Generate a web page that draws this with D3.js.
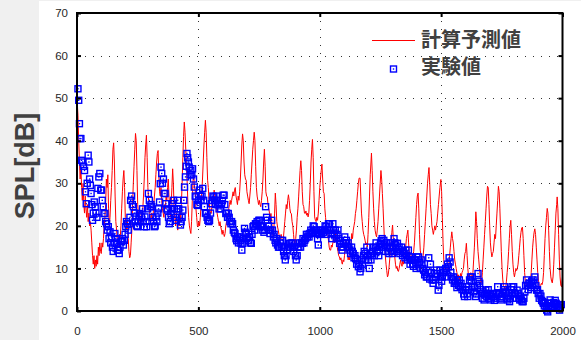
<!DOCTYPE html>
<html>
<head>
<meta charset="utf-8">
<script src="https://cdn.jsdelivr.net/npm/d3@7"></script>
<style>
  body { margin: 0; background: #f0f0f0; }
  svg { display: block; }
</style>
</head>
<body>
<svg id="chart" width="581" height="340"></svg>
<script>
// axis ticks and legend labels
const xTicks = [0, 500, 1000, 1500, 2000];
const yTicks = [0, 10, 20, 30, 40, 50, 60, 70];
const gridX = [500, 1000, 1500];
const gridY = [10, 20, 30, 40, 50, 60];
const legendLabels = ['計算予測値', '実験値'];
const yLabel = 'SPL[dB]';

// 計算予測値 : [Hz, dB]
const predicted = [
  [1,49],[4,46],[7,40],[10,35],[13,31],[16,34],[19,29],[22,26],[25,30],[28,25],[31,23],[34,27],[37,24],[40,22],[43,25],[46,21],[49,23],[52,20],[55,21],[58,19],
  [61,16],[64,13],[67,11],[70,13],[73,10],[76,12],[79,10.5],[82,13],[85,11],[88,15],[91,13],[94,16],[97,14],[100,13.5],[103,16],[106,15],[109,17],[112,20],[115,22],[118,25],
  [121,31],[124,29],[127,32],[130,24],[133,20],[136,22],[139,26],[142,29],[145,33],[148,38],[151,39.5],[154,35],[157,27],[160,21],[163,19],[166,17],[169,15],[172,16],[175,18],[178,17],
  [181,20],[184,24],[187,28],[190,31],[193,33],[196,29],[199,22],[202,20],[205,19],[208,21],[211,17],[214,14],[217,12.5],[220,13],[223,16],[226,19],[229,25],[232,30],[235,34],[238,38],
  [241,41.7],[244,40],[247,33],[250,25],[253,23],[256,21],[259,22],[262,20],[265,23],[268,21],[271,24],[274,27],[277,31],[280,36],[283,39],[286,41.3],[289,36],[292,29],[295,26],[298,24],
  [301,22],[304,21],[307,23],[310,21.5],[313,22],[316,25],[319,27],[322,29],[325,32],[328,35],[331,37],[334,37.7],[337,32],[340,28],[343,27],[346,29],[349,26],[352,24],[355,23],[358,22],
  [361,25],[364,24],[367,27],[370,26],[373,29],[376,31],[379,27],[382,24],[385,22],[388,25],[391,29],[394,33.4],[397,30],[400,24],[403,22],[406,20],[409,23],[412,21],[415,19],[418,22],
  [421,20],[424,23],[427,21],[430,25],[433,30],[436,36],[439,41],[442,44.4],[445,42],[448,38],[451,34],[454,30],[457,25],[460,22],[463,20],[466,19],[469,18.2],[472,21],[475,26],[478,30.7],
  [481,32],[484,29],[487,28.4],[490,24],[493,22],[496,20],[499,19.8],[502,21],[505,20],[508,22],[511,25],[514,28],[517,31],[520,35],[523,39],[526,42],[529,44.8],[532,42],[535,36],[538,30.7],
  [541,29],[544,26],[547,24],[550,23],[553,22.9],[556,25],[559,27],[562,26],[565,28.4],[568,27],[571,25],[574,24.5],[577,23],[580,22],[583,21],[586,20],[589,21],[592,19.8],[595,19],[598,18],
  [601,19],[604,18.2],[607,17.5],[610,18.2],[613,20],[616,21],[619,22.9],[622,22],[625,24],[628,25],[631,26],[634,25],[637,26],[640,27],[643,28],[646,27],[649,28.4],[652,29],[655,27],[658,26],
  [661,25],[664,27],[667,26],[670,28],[673,31],[676,35],[679,39],[682,41.6],[685,40],[688,35],[691,32],[694,31],[697,30.7],[700,28],[703,27],[706,26],[709,25.2],[712,27],[715,29],[718,32],
  [721,35],[724,38],[727,40],[730,42],[733,40],[736,34],[739,29],[742,27],[745,26],[748,25],[751,26],[754,25],[757,24.5],[760,26],[763,28],[766,31],[769,35],[772,38],[775,34],[778,28],
  [781,27],[784,26.8],[787,25],[790,24],[793,23],[796,22],[799,22.9],[802,21],[805,19],[808,17.4],[811,19],[814,23],[817,27.7],[820,25],[823,21],[826,19.8],[829,19],[832,18],[835,17.4],[838,17],
  [841,18],[844,17],[847,16.6],[850,17],[853,19],[856,21],[859,23],[862,25],[865,24],[868,26],[871,27.3],[874,26],[877,24],[880,23],[883,22.9],[886,21],[889,20],[892,18],[895,16],[898,15.9],
  [901,17],[904,19],[907,22],[910,24],[913,26.8],[916,30],[919,33],[922,35.3],[925,33],[928,28],[931,25],[934,24.5],[937,23],[940,22.9],[943,23.5],[946,22.5],[949,23],[952,22.1],[955,23],[958,26],
  [961,30],[964,35],[967,38],[970,40.3],[973,36],[976,28],[979,22.1],[982,21.3],[985,21],[988,22],[991,21.3],[994,23],[997,26],[1000,29],[1003,31],[1006,33],[1009,34.5],[1012,31],[1015,28],[1018,27.6],
  [1021,24],[1024,22],[1027,20],[1030,19],[1033,18],[1036,16.5],[1039,15],[1042,14.3],[1045,14.3],[1048,15.5],[1051,15],[1054,16],[1057,17],[1060,16],[1063,17.5],[1066,18.2],[1069,17],[1072,15],[1075,14],[1078,13],
  [1081,12.7],[1084,12],[1087,12.5],[1090,11.6],[1093,11],[1096,12],[1099,11.6],[1102,13],[1105,15],[1108,16.6],[1111,15],[1114,13.5],[1117,12],[1120,13],[1123,12],[1126,14],[1129,16],[1132,18.2],[1135,17],[1138,19],
  [1141,20],[1144,21],[1147,22.9],[1150,24],[1153,26],[1156,28],[1159,30],[1162,31.2],[1166,31.2],[1169,27],[1172,23],[1175,21],[1178,19],[1181,18],[1184,17.4],[1187,16.5],[1190,15.5],[1193,16],[1196,15],[1199,18],
  [1202,22],[1205,27],[1208,32],[1211,35],[1213,37.1],[1216,33],[1219,28],[1222,24],[1225,21],[1228,19],[1231,18],[1234,17.4],[1237,19],[1240,21],[1243,24],[1246,27],[1249,30],[1252,33],[1255,31],[1258,27.6],
  [1261,24],[1264,20],[1267,16],[1270,13],[1273,11],[1276,9.5],[1279,8],[1282,8.5],[1285,10],[1288,12],[1291,14],[1294,16],[1297,18.5],[1300,20.2],[1303,17],[1306,14],[1309,12.7],[1312,11],[1315,10],[1318,10.5],
  [1321,9.5],[1324,9.3],[1327,10],[1330,11],[1333,12],[1336,11],[1339,10.5],[1342,12],[1345,11],[1348,12],[1351,13],[1354,15],[1357,17],[1360,18],[1363,19],[1366,16],[1369,13.5],[1372,13],[1375,12.5],[1378,13],
  [1381,12],[1384,13],[1387,14],[1390,16],[1393,19],[1396,22],[1399,25],[1402,27],[1405,27.7],[1408,24],[1411,18],[1414,14.3],[1417,13],[1420,12],[1423,11.5],[1426,13],[1429,15],[1432,18],[1435,21],[1438,24],
  [1441,27],[1444,30],[1447,32],[1450,33.7],[1453,30],[1456,25],[1459,22.9],[1462,20],[1465,19],[1468,18],[1471,19],[1474,20],[1477,19],[1480,20],[1483,21],[1486,23],[1489,25],[1492,27],[1495,29],[1499,30.9],
  [1502,28],[1505,22],[1508,16],[1511,12],[1514,10],[1517,9.6],[1520,10],[1523,9.6],[1526,10],[1529,9.6],[1532,11],[1535,13],[1538,15],[1541,17],[1544,18.6],[1547,17],[1550,16],[1553,14],[1556,12],[1559,11],
  [1562,10],[1565,9],[1568,8],[1571,8.5],[1574,8],[1577,7.3],[1580,8.8],[1583,8],[1586,9],[1589,9.5],[1592,10],[1595,12],[1598,13.5],[1601,14],[1604,15.9],[1607,13],[1610,10],[1613,8],[1616,8],[1619,8.5],
  [1622,9],[1625,8],[1628,7.5],[1631,9],[1634,12],[1637,15],[1640,19],[1643,23.3],[1646,21],[1649,17],[1652,14],[1655,12],[1658,10],[1661,8],[1664,6.5],[1667,7],[1670,9],[1673,12],[1676,15],[1679,18],
  [1682,21],[1685,24],[1688,27],[1691,29.3],[1694,29],[1697,25],[1700,20],[1703,16],[1706,14],[1709,12.7],[1712,13.5],[1715,14],[1718,16],[1721,18],[1724,17],[1727,20],[1730,23],[1733,26],[1736,29.3],[1739,28],
  [1742,24],[1745,19],[1748,14],[1751,10],[1754,7.3],[1757,6],[1760,5.7],[1763,4.9],[1766,5.5],[1769,7],[1772,9],[1775,11],[1778,14],[1781,17],[1784,19.8],[1787,21.3],[1790,18],[1793,14],[1796,11],[1799,9],
  [1802,8],[1805,9],[1808,10],[1811,9.5],[1814,10],[1817,11],[1820,13],[1823,15],[1826,17],[1829,18.5],[1832,19.5],[1835,19.7],[1838,17],[1841,13],[1844,9],[1847,7],[1850,6],[1853,5.7],[1856,6.5],[1859,6],
  [1862,5.5],[1865,5.4],[1868,7],[1871,9],[1874,12],[1877,15],[1880,17],[1883,18.5],[1886,19.3],[1889,18],[1892,15],[1895,12],[1898,9],[1901,7],[1904,6],[1907,5.7],[1910,6],[1913,6.5],[1916,6.2],[1919,7],
  [1922,9],[1925,13],[1928,17],[1931,20],[1934,22],[1937,24.1],[1940,23],[1943,19],[1946,14],[1949,10],[1952,8],[1955,7],[1958,6.6],[1961,8],[1964,11],[1967,15],[1970,19],[1973,23],[1976,25],[1978,26.8],
  [1981,24],[1984,18],[1987,12],[1990,8],[1993,6],[1996,5.7],[2000,8]
];

// 実験値 : [Hz, dB]
const measured = [
  [4,52.2],[7,49.5],[10,44],[12,40.5],[16,40.5],[19,35.4],[23,35],[27,34],[31,33],[35,28],[38,25.2],[42,30],[46,36.6],[49,35],[52,31],[55,29.5],[58,27.6],[61,25],[64,21.3],[67,23],
  [71,25.6],[75,24.5],[78,23],[82,22],[86,28.8],[90,31.5],[94,32.3],[98,28.4],[101,28.4],[104,26],[108,24.5],[111,22.9],[115,22.9],[118,21],[122,20.5],[125,19],[129,19.8],[132,17],[136,18.6],[139,16],
  [142,17.4],[146,15],[149,14],[153,16],[156,18.2],[160,17],[163,15.9],[167,14.3],[170,14.3],[174,13.5],[177,15],[181,16.3],[184,16.3],[188,17],[191,15.5],[195,16.6],[198,18],[201,19.8],[204,21],[208,20.5],
  [211,19],[215,20.5],[218,22],[221,26],[225,27],[228,25],[232,24.5],[236,23],[239,21],[242,22.1],[246,20],[249,19.8],[252,21],[256,22.5],[259,22.9],[263,21],[266,22.1],[270,24],[273,21],[277,19.8],
  [280,22.1],[284,21],[287,19.8],[291,24],[294,27.6],[298,26],[301,24.5],[305,25],[308,24.5],[312,22],[315,21],[319,19.8],[322,20],[326,22.1],[329,21],[333,23],[336,24],[340,25.6],[343,29.9],[346,33.8],
  [349,32.3],[352,30],[356,31],[359,27.6],[363,27.6],[366,25.2],[370,24],[373,23.7],[377,22],[380,20.5],[384,21],[387,22.9],[391,24],[394,25.2],[398,26],[401,24],[405,22],[408,21.3],[412,24],[415,26],
  [419,24],[422,22],[426,20.2],[429,21],[433,22],[436,23.7],[440,26],[443,29.1],[447,31.5],[450,34],[453,37],[456,36],[459,35],[462,33.8],[466,32],[469,33],[473,32],[476,33.4],[480,31],[483,29.1],
  [487,27],[490,26.8],[494,25],[497,24.8],[501,26],[504,28.4],[508,27],[511,26],[515,27],[518,28.8],[522,26],[525,24.5],[529,23],[532,22.9],[536,22],[539,21.3],[543,21],[546,21.3],[550,23],[553,25.2],
  [557,26],[560,27],[564,26.8],[567,26],[571,25],[574,27],[578,26],[581,25],[585,24],[588,25.2],[592,24],[595,25.2],[599,26],[602,27.2],[606,27.2],[609,25],[613,22.9],[616,23],[620,22],[623,22.9],
  [627,22],[630,21],[634,20.5],[637,21],[641,20.5],[644,19],[648,18.5],[651,18.2],[655,17],[658,16.5],[662,17.4],[665,16],[669,17.4],[672,16.5],[676,15.9],[679,14.3],[683,15.9],[686,17],[690,19.4],[693,18.5],
  [697,18.2],[700,17],[704,17.4],[707,16.5],[711,17.4],[714,16],[718,15.9],[721,18],[725,19.8],[728,20],[732,19],[735,20.5],[739,20.5],[742,21],[746,20],[749,21.3],[753,21.3],[756,20],[760,19.8],[763,19],
  [767,19.8],[770,18.5],[774,19],[777,24.5],[781,22],[784,21.3],[788,20],[791,19],[795,18.2],[798,19],[802,21.3],[805,19],[809,17.4],[812,18],[816,16.6],[819,16],[823,17],[826,15.5],[830,15],[833,15],
  [837,16],[840,16.6],[844,15],[847,16.6],[851,14],[854,13],[858,12],[861,13],[865,14.3],[868,15],[872,15.5],[875,15.9],[879,15],[882,15.9],[886,16],[889,15],[893,14],[896,15],[900,13],[903,12],
  [907,13],[910,15],[914,15],[917,16],[921,15],[924,16],[928,15.9],[931,17],[935,16],[938,16.6],[942,17],[945,18],[949,17.4],[952,18],[956,17.4],[959,18.2],[963,19],[966,18.5],[970,18.2],[973,20],
  [977,19.8],[980,19],[984,18.5],[987,19],[991,17],[994,15.5],[998,18],[1001,18.2],[1005,19],[1008,18],[1012,19],[1015,18.5],[1019,19],[1022,20],[1026,19.8],[1029,18],[1033,19],[1036,20.5],[1040,20.5],[1043,19],
  [1047,18.2],[1050,17],[1054,20.5],[1057,19],[1061,18],[1064,19],[1068,17],[1071,18],[1075,19],[1078,17],[1082,15.9],[1085,16.5],[1089,15],[1092,14.3],[1096,15],[1099,16],[1103,17.4],[1106,16],[1110,16.6],[1113,15],
  [1117,16],[1120,15],[1124,14.3],[1127,13.5],[1131,15],[1134,14],[1138,13.5],[1141,12.5],[1145,13],[1148,12.3],[1152,11],[1155,12],[1159,10.4],[1162,11],[1166,9.2],[1169,10],[1173,12],[1176,11],[1180,13],[1183,14],
  [1187,13.5],[1190,12],[1194,15],[1197,13],[1201,12],[1204,10],[1208,13.5],[1211,12],[1215,13.5],[1218,14],[1222,15],[1225,13],[1229,15],[1232,16],[1236,14],[1239,14.3],[1243,13],[1246,15],[1250,15.9],[1253,16.5],
  [1257,17],[1260,15],[1264,16.6],[1267,15.5],[1271,14],[1274,16],[1278,15],[1281,14],[1285,13.5],[1288,15],[1292,16],[1295,14],[1299,13.5],[1302,15],[1306,17],[1309,16],[1313,15.5],[1316,14],[1320,15.9],[1323,14.5],
  [1327,15],[1330,13.5],[1334,14],[1337,15],[1341,13],[1344,14],[1348,13.5],[1351,12.5],[1355,14.3],[1358,13],[1362,12],[1365,14.3],[1369,12.7],[1372,11],[1376,12],[1379,12.7],[1383,11],[1386,10.5],[1390,12],[1393,12],
  [1397,10],[1400,12.7],[1404,11],[1407,12.7],[1411,11.5],[1414,10],[1418,12],[1421,11],[1425,10],[1428,9.6],[1432,8.5],[1435,9],[1439,8],[1442,8],[1446,9.5],[1449,12.5],[1453,7.5],[1456,11],[1460,9],[1463,7.3],
  [1467,6.5],[1470,7.3],[1474,8.8],[1477,8],[1481,9.6],[1484,8.8],[1488,4.9],[1491,6],[1495,9.6],[1498,8],[1502,7],[1505,8],[1509,9],[1512,9.6],[1516,8],[1519,10],[1523,9.6],[1526,11],[1530,10.4],[1533,12.5],
  [1537,11.5],[1540,9],[1544,8],[1547,7.3],[1551,8],[1554,6.5],[1558,7],[1561,6.5],[1565,5.5],[1568,7.3],[1572,6],[1575,7.3],[1579,5.7],[1582,6.5],[1586,5],[1589,5.7],[1593,4],[1596,3.4],[1600,4.9],[1603,5.7],
  [1607,4],[1610,3.4],[1614,5],[1617,7.3],[1621,8],[1624,7],[1628,8],[1631,5.7],[1635,4.5],[1638,5.5],[1642,3.4],[1645,4],[1649,6],[1652,8.8],[1656,7],[1659,6.5],[1663,5],[1666,4.1],[1670,3],[1673,4.5],
  [1677,2.6],[1680,4],[1684,4.9],[1687,3.5],[1691,4.1],[1694,5],[1698,3],[1701,4.1],[1705,2.6],[1708,3.4],[1712,4],[1715,3.4],[1719,2.5],[1722,4.1],[1726,3],[1729,4.1],[1733,5.7],[1736,4],[1740,4.1],[1743,3],
  [1747,2.6],[1750,3.4],[1754,4.1],[1757,5],[1761,5.7],[1764,4.5],[1768,4.1],[1771,3],[1775,2.6],[1778,3.5],[1782,2.2],[1785,3],[1789,5],[1792,5.7],[1796,4.1],[1799,5.7],[1803,4],[1806,4.1],[1810,3],[1813,4.9],
  [1817,4.1],[1820,3],[1824,2.6],[1827,3.5],[1831,2.6],[1834,2.2],[1838,2.2],[1841,3],[1845,4.5],[1848,6],[1852,7.3],[1855,6],[1859,5],[1862,6.5],[1866,6.5],[1869,5.5],[1873,7],[1876,6],[1879,7.3],[1883,6.5],
  [1886,8],[1890,6],[1893,4.9],[1897,5],[1900,4.1],[1904,3],[1907,4.1],[1911,3.5],[1914,2.5],[1918,2.2],[1921,1.8],[1925,1.2],[1928,2],[1932,0.8],[1935,0.2],[1939,-0.2],[1942,1],[1946,1.8],[1949,2.6],[1953,1.8],
  [1956,1.2],[1960,1],[1963,2],[1967,1.5],[1970,2.5],[1974,1.8],[1977,1],[1981,1.5],[1984,0.8],[1988,0.2],[1991,1.2],[1995,1.5]
];

const width = 581, height = 340;
const svg = d3.select('#chart');

svg.append('rect')
  .attr('x', 39).attr('y', 1)
  .attr('width', width - 39).attr('height', height - 1)
  .attr('fill', '#ffffff');

let x = d3.scaleLinear().domain([0, 2000]).range([77, 562.5]);
let y = d3.scaleLinear().domain([0, 70]).range([311, 13]);

// dotted grid
svg.append('g').selectAll('line.gx')
  .data(gridX)
  .enter().append('line')
  .attr('x1', d => Math.round(x(d)) + 0.5).attr('x2', d => Math.round(x(d)) + 0.5)
  .attr('y1', y(70)).attr('y2', y(0))
  .style('stroke', '#333').style('stroke-width', 1)
  .style('stroke-dasharray', '1,7');
svg.append('g').selectAll('line.gy')
  .data(gridY)
  .enter().append('line')
  .attr('x1', x(0)).attr('x2', x(2000))
  .attr('y1', d => Math.round(y(d)) + 0.5).attr('y2', d => Math.round(y(d)) + 0.5)
  .style('stroke', '#333').style('stroke-width', 1)
  .style('stroke-dasharray', '1,7');

// prediction line
let line = d3.line()
  .x(d => x(d[0]))
  .y(d => y(d[1]));
svg.append('path')
  .datum(predicted)
  .attr('d', line)
  .attr('fill', 'none')
  .style('stroke', '#ff0000')
  .style('stroke-width', 1);

// measured squares
const msize = 6;
let pts = svg.append('g').selectAll('g.pt')
  .data(measured)
  .enter().append('g')
  .attr('transform', d => `translate(${x(d[0])},${y(d[1])})`);
pts.append('rect')
  .attr('x', -msize / 2).attr('y', -msize / 2)
  .attr('width', msize).attr('height', msize)
  .attr('fill', 'none')
  .style('stroke', '#0000ff')
  .style('stroke-width', 1.4);
pts.append('rect')
  .attr('x', -0.7).attr('y', -0.7)
  .attr('width', 1.4).attr('height', 1.4)
  .attr('fill', '#0000ff');

// axes (ticks inward, frame drawn separately)
const tickFont = '"Liberation Sans", Arial, sans-serif';
svg.append('g')
  .attr('transform', `translate(${x(0)},0)`)
  .call(d3.axisLeft(y).tickValues(yTicks).tickSize(-4).tickPadding(9).tickFormat(d3.format('d')))
  .call(g => {
    g.select('.domain').remove();
    g.selectAll('.tick line').style('stroke', '#000').style('stroke-width', 2);
    g.selectAll('.tick text').style('font-family', tickFont).style('font-size', '11.5px').attr('fill', '#262626');
  });
svg.append('g')
  .attr('transform', `translate(${x(2000)},0)`)
  .call(d3.axisRight(y).tickValues(yTicks).tickSize(-4).tickFormat(''))
  .call(g => {
    g.select('.domain').remove();
    g.selectAll('.tick line').style('stroke', '#000').style('stroke-width', 2);
  });
svg.append('g')
  .attr('transform', `translate(0,${y(0)})`)
  .call(d3.axisBottom(x).tickValues(xTicks).tickSize(-4).tickPadding(16).tickFormat(d3.format('d')))
  .call(g => {
    g.select('.domain').remove();
    g.selectAll('.tick line').style('stroke', '#000').style('stroke-width', 2);
    g.selectAll('.tick text').style('font-family', tickFont).style('font-size', '11.5px').attr('fill', '#262626');
  });
svg.append('g')
  .attr('transform', `translate(0,${y(70)})`)
  .call(d3.axisTop(x).tickValues(xTicks).tickSize(-4).tickFormat(''))
  .call(g => {
    g.select('.domain').remove();
    g.selectAll('.tick line').style('stroke', '#000').style('stroke-width', 2);
  });

svg.append('rect')
  .attr('x', x(0)).attr('y', y(70))
  .attr('width', x(2000) - x(0)).attr('height', y(0) - y(70))
  .attr('fill', 'none')
  .style('stroke', '#000')
  .style('stroke-width', 2);

// y label
svg.append('text')
  .attr('transform', 'translate(34,166) rotate(-90)')
  .attr('text-anchor', 'middle')
  .style('font-family', '"Liberation Sans", Arial, sans-serif')
  .style('font-weight', 'bold')
  .style('font-size', '27px')
  .attr('fill', '#404040')
  .text(yLabel);

// legend
let legend = svg.append('g');
legend.append('line')
  .attr('x1', 372).attr('x2', 415)
  .attr('y1', 40.5).attr('y2', 40.5)
  .style('stroke', '#ff0000').style('stroke-width', 1);
legend.append('rect')
  .attr('x', 390.5).attr('y', 66)
  .attr('width', 6).attr('height', 6)
  .attr('fill', 'none')
  .style('stroke', '#0000ff').style('stroke-width', 1.4);
legend.append('rect')
  .attr('x', 392.8).attr('y', 68.3)
  .attr('width', 1.4).attr('height', 1.4)
  .attr('fill', '#0000ff');
legend.selectAll('text')
  .data(legendLabels)
  .enter().append('text')
  .attr('x', 421)
  .attr('y', (d, i) => 46.5 + i * 27)
  .style('font-family', '"Noto Sans CJK JP", sans-serif')
  .style('font-weight', 'bold')
  .style('font-size', '20px')
  .attr('fill', '#404040')
  .text(d => d);
</script>
</body>
</html>
